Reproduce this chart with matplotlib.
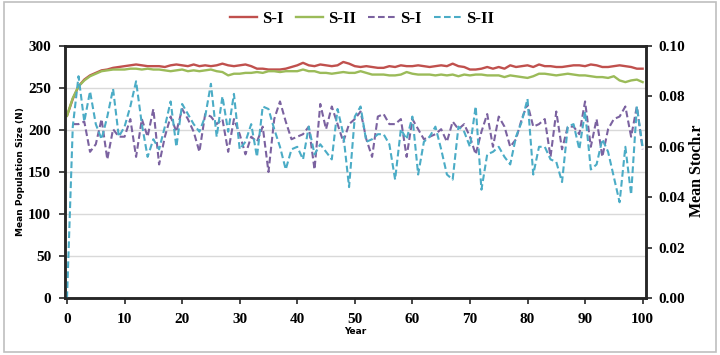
import matplotlib
matplotlib.use("Agg")
import matplotlib.pyplot as plt
from matplotlib.patches import Rectangle
import numpy as np

years = list(range(0, 101))

# mean population size (left axis)
n_s1 = [217, 237, 252, 260, 265, 268, 271, 272, 274, 275,
        276, 277, 278, 277, 276, 276, 276, 275, 277, 278,
        277, 276, 278, 276, 277, 276, 277, 279, 277, 276,
        277, 278, 276, 273, 273, 272, 272, 272, 273, 275,
        277, 280, 277, 276, 278, 277, 276, 277, 281, 279,
        276, 275, 276, 275, 274, 274, 276, 275, 277, 276,
        276, 277, 276, 275, 276, 277, 276, 279, 276, 275,
        272, 272, 273, 275, 273, 275, 273, 277, 275, 276,
        277, 275, 278, 276, 276, 275, 275, 276, 277, 277,
        276, 278, 277, 275, 275, 276, 277, 276, 275, 273, 273]
n_s2 = [217, 238, 252, 259, 264, 267, 270, 271, 272, 272,
        272, 273, 273, 272, 273, 272, 272, 271, 270, 271,
        272, 270, 271, 270, 271, 272, 270, 269, 265, 267,
        267, 268, 268, 269, 268, 270, 270, 269, 270, 270,
        270, 272, 270, 270, 268, 268, 267, 268, 269, 268,
        268, 270, 268, 266, 266, 266, 265, 265, 266, 269,
        267, 266, 266, 266, 265, 266, 265, 266, 264, 266,
        265, 266, 266, 265, 265, 265, 263, 265, 264, 263,
        262, 264, 267, 267, 266, 265, 266, 267, 266, 265,
        265, 264, 263, 263, 262, 264, 259, 257, 259, 260, 257]

# mean stochastic r (right axis)
r_s1 = [np.nan, 0.069, 0.069, 0.070, 0.058, 0.061, 0.071, 0.055, 0.067, 0.064,
        0.064, 0.071, 0.056, 0.071, 0.064, 0.075, 0.053, 0.064, 0.072, 0.066,
        0.075, 0.071, 0.066, 0.058, 0.073, 0.072, 0.069, 0.071, 0.058, 0.071,
        0.065, 0.057, 0.064, 0.062, 0.068, 0.050, 0.071, 0.078, 0.070, 0.063,
        0.064, 0.065, 0.068, 0.051, 0.077, 0.067, 0.076, 0.069, 0.062, 0.069,
        0.071, 0.074, 0.063, 0.056, 0.072, 0.073, 0.069, 0.069, 0.071, 0.056,
        0.071, 0.067, 0.063, 0.064, 0.065, 0.067, 0.062, 0.070, 0.067, 0.069,
        0.064, 0.057, 0.066, 0.073, 0.060, 0.072, 0.068, 0.060, 0.063, 0.071,
        0.077, 0.068, 0.069, 0.071, 0.056, 0.074, 0.059, 0.068, 0.068, 0.065,
        0.078, 0.060, 0.071, 0.056, 0.067, 0.071, 0.072, 0.076, 0.064, 0.076, 0.059]
r_s2 = [0.000, 0.068, 0.088, 0.070, 0.082, 0.069, 0.063, 0.072, 0.083, 0.064,
        0.068, 0.076, 0.086, 0.069, 0.056, 0.063, 0.059, 0.068, 0.078, 0.060,
        0.077, 0.073, 0.069, 0.066, 0.072, 0.085, 0.064, 0.080, 0.066, 0.081,
        0.059, 0.062, 0.069, 0.056, 0.076, 0.075, 0.067, 0.060, 0.051, 0.059,
        0.060, 0.055, 0.068, 0.057, 0.061, 0.058, 0.055, 0.075, 0.065, 0.044,
        0.072, 0.076, 0.062, 0.063, 0.065, 0.065, 0.061, 0.047, 0.067, 0.063,
        0.072, 0.049, 0.062, 0.064, 0.068, 0.059, 0.049, 0.047, 0.068, 0.066,
        0.060, 0.076, 0.043, 0.057, 0.058, 0.060, 0.056, 0.053, 0.064, 0.070,
        0.079, 0.049, 0.060, 0.060, 0.055, 0.054, 0.046, 0.068, 0.069, 0.059,
        0.074, 0.051, 0.053, 0.063, 0.058, 0.048, 0.038, 0.060, 0.041, 0.076, 0.060]

series_labels = ["S-I", "S-II", "S-I", "S-II"]

RED = "#C0504D"
GREEN = "#9BBB59"
PURPLE = "#7B62A0"
CYAN = "#4BACC6"
serif = "Liberation Serif"

fig = plt.figure(figsize=(7.2, 3.55), dpi=100)
fig.patches.append(Rectangle((0.005, 0.008), 0.99, 0.985, transform=fig.transFigure,
                             fill=False, edgecolor="#BFBFBF", linewidth=1.2))

ax = fig.add_axes([65 / 720, 57 / 355, 580.5 / 720, 252 / 355])
ax2 = ax.twinx()

l1, = ax.plot(years, n_s1, color=RED, lw=1.7)
l2, = ax.plot(years, n_s2, color=GREEN, lw=1.7)
l3, = ax2.plot(years, r_s1, color=PURPLE, lw=1.5, ls=(0, (3.2, 1.6)))
l4, = ax2.plot(years, r_s2, color=CYAN, lw=1.5, ls=(0, (3.2, 1.6)))

ax.set_xlim(-0.35, 100.5)
ax.set_ylim(0, 300)
ax2.set_ylim(0, 0.10)
ax.set_xticks(range(0, 101, 10))
ax.set_yticks(range(0, 301, 50))
ax2.set_yticks(np.arange(0, 0.101, 0.02))
ax2.set_yticklabels([f"{v:.2f}" for v in np.arange(0, 0.101, 0.02)])

ax.yaxis.grid(True, color="#D9D9D9", lw=1)
ax.set_axisbelow(True)

for a in (ax, ax2):
    for s in a.spines.values():
        s.set_color("#262626")
        s.set_linewidth(1.8)
    a.tick_params(length=4, width=1.2, color="#262626")
    for lab in a.get_xticklabels() + a.get_yticklabels():
        lab.set_fontfamily(serif)
        lab.set_fontweight("bold")
        lab.set_fontsize(11)
ax.tick_params(axis="y", pad=6)
ax.tick_params(axis="x", pad=7)
ax2.tick_params(axis="y", pad=5)

fig.text(21 / 720, 1 - 172 / 355, "Mean Population Size (N)", rotation=90,
         ha="center", va="center", fontsize=6.5, fontweight="bold", family="DejaVu Sans")
fig.text(355 / 720, 1 - 332 / 355, "Year", ha="center", va="center",
         fontsize=6.5, fontweight="bold", family="DejaVu Sans")
fig.text(697 / 720, 1 - 171 / 355, "Mean Stoch.r", rotation=90, ha="center",
         va="center", fontsize=11.5, fontweight="bold", family=serif)

fig.legend([l1, l2, l3, l4], series_labels, loc="center", bbox_to_anchor=(362 / 720, 1 - 19 / 355),
           ncol=4, frameon=False, handlelength=1.6, handletextpad=0.3, columnspacing=0.75,
           prop={"family": serif, "weight": "bold", "size": 12})

fig.savefig("out.png", dpi=100)
